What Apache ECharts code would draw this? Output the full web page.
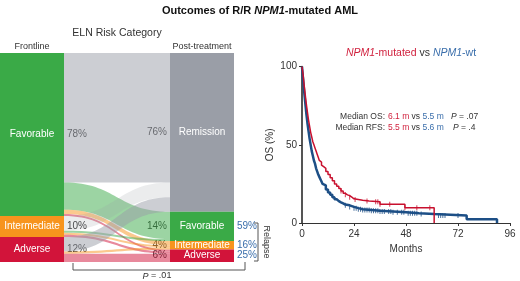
<!DOCTYPE html>
<html>
<head>
<meta charset="utf-8">
<script src="https://cdn.jsdelivr.net/npm/echarts@6/dist/echarts.min.js"></script>
<style>
  html, body { margin: 0; padding: 0; background: #fff; }
  #main { width: 520px; height: 281px; }
</style>
</head>
<body>
<div id="main"></div>
<script>
// ELN risk category: frontline -> post-treatment (percent of patients)
var frontNodes = ['Favorable', 'Intermediate', 'Adverse'];
var frontPct = [78, 10, 12];
var postNodes = ['Remission', 'Favorable', 'Intermediate', 'Adverse'];
var postPct = [76, 14, 4, 6];
var relapsePct = [59, 16, 25];
var flowFrom = ['Favorable', 'Favorable', 'Favorable', 'Favorable', 'Intermediate', 'Intermediate', 'Intermediate', 'Intermediate', 'Adverse', 'Adverse', 'Adverse'];
var flowTo = ['Remission', 'Favorable', 'Intermediate', 'Adverse', 'Remission', 'Favorable', 'Intermediate', 'Adverse', 'Remission', 'Intermediate', 'Adverse'];
var flowValue = [62, 13, 2, 1, 7, 1, 1, 1, 7, 1, 4];

// OS curves (months, % alive)
var monthsMut = [0, 0.5, 1, 1.5, 2, 2.5, 3, 3.5, 4, 4.5, 5, 5.5, 6, 6.5, 7, 7.5, 8, 8.5, 9, 9.5, 10, 11, 12, 13, 14, 15, 16, 17, 18, 19, 20, 21, 22, 23, 24, 26, 28, 31, 36, 47.5, 61];
var osMut = [100, 95, 88, 82, 76, 71, 66, 62, 58, 55, 52, 50, 48, 46, 44, 42, 40, 39, 37, 36, 35, 33, 31, 29, 27, 25, 23.5, 22, 20.5, 19, 18, 17.5, 16.5, 15.5, 15, 14.5, 14, 13.6, 12, 9.8, 0];
var monthsWt = [0, 0.5, 1, 1.5, 2, 2.5, 3, 3.5, 4, 4.5, 5, 5.5, 6, 6.5, 7, 7.5, 8, 8.5, 9, 9.5, 10, 11, 12, 13, 14, 15, 16, 17, 18, 19, 20, 22, 24, 26, 28, 32, 36, 42, 48, 54, 61, 76, 90];
var osWt = [100, 92, 84, 77, 70, 64, 59, 54, 50, 46, 43, 40, 38, 35, 33, 31, 29.5, 28, 26.5, 25, 24, 21.5, 19.5, 18, 16.5, 15.2, 14, 13.2, 12.5, 11.8, 11.3, 10.3, 9.5, 8.8, 8.3, 7.8, 7.3, 6.8, 6.3, 5.8, 4.8, 2.4, 0];
var censorMut = [18, 20, 22, 24.5, 30, 34, 35, 36, 40.5, 47.5, 53, 59];
var censorWt = [20, 22, 24, 25, 26, 27, 28, 29, 30, 31, 32, 33, 34, 35, 36, 37, 38, 40, 41, 42, 44, 46, 47, 49, 50, 51, 52, 53, 55, 63, 64, 65, 66, 72];

var FONT = '"Liberation Sans", Arial, sans-serif';
var NARROW = '"Liberation Sans Narrow", "Liberation Sans", Arial, sans-serif';
var nodeColor = { Remission: '#9a9ea7', Favorable: '#3aaa47', Intermediate: '#f7941d', Adverse: '#d2143a' };
var RED = '#d01f3c', BLUE = '#3a6eab';

var sTop = 53, sH = 209;

var nodes = [];
frontNodes.forEach(function (n) {
  nodes.push({ name: 'L-' + n, itemStyle: { color: nodeColor[n], borderWidth: 0 } });
});
postNodes.forEach(function (n) {
  nodes.push({ name: 'R-' + n, itemStyle: { color: nodeColor[n], borderWidth: 0 } });
});
var links = flowValue.map(function (v, i) {
  var op = 0.5;
  if (flowFrom[i] === 'Intermediate' && flowTo[i] === 'Remission') op = 0.2;
  return {
    source: 'L-' + flowFrom[i], target: 'R-' + flowTo[i], value: v,
    lineStyle: { color: nodeColor[flowTo[i]], opacity: op }
  };
});

function stepAt(ms, vs, m) {
  var v = vs[0];
  for (var i = 0; i < ms.length; i++) { if (ms[i] <= m) v = vs[i]; }
  return v;
}

var graphics = [];
// percent labels next to the nodes
var cum = 0;
frontPct.forEach(function (p) {
  graphics.push({ type: 'text', x: 67, y: sTop + sH * (cum + p / 2) / 100,
    style: { text: p + '%', font: '10px ' + FONT, fill: '#333', textAlign: 'left', textVerticalAlign: 'middle' } });
  cum += p;
});
cum = 0;
postPct.forEach(function (p, i) {
  graphics.push({ type: 'text', x: 167, y: sTop + sH * (cum + p / 2) / 100,
    style: { text: p + '%', font: '10px ' + FONT, fill: '#333', textAlign: 'right', textVerticalAlign: 'middle' } });
  if (i > 0) {
    graphics.push({ type: 'text', x: 237, y: sTop + sH * (cum + p / 2) / 100,
      style: { text: relapsePct[i - 1] + '%', font: '10px ' + FONT, fill: BLUE, textAlign: 'left', textVerticalAlign: 'middle' } });
  }
  cum += p;
});

var SM = '8.5px ';
graphics.push(
  { type: 'text', x: 117, y: 33, style: { text: 'ELN Risk Category', font: '10.5px ' + FONT, fill: '#333', textAlign: 'center', textVerticalAlign: 'middle' } },
  { type: 'text', x: 32, y: 47, style: { text: 'Frontline', font: '9px ' + FONT, fill: '#333', textAlign: 'center', textVerticalAlign: 'middle' } },
  { type: 'text', x: 202, y: 47, style: { text: 'Post-treatment', font: '9px ' + FONT, fill: '#333', textAlign: 'center', textVerticalAlign: 'middle' } },
  { type: 'polyline', shape: { points: [[254, 223], [258, 223], [258, 261], [254, 261]] }, style: { stroke: '#555', lineWidth: 1, fill: null } },
  { type: 'text', x: 266, y: 242, rotation: -Math.PI / 2,
    style: { text: 'Relapse', font: '9px ' + FONT, fill: '#333', textAlign: 'center', textVerticalAlign: 'middle' } },
  { type: 'polyline', shape: { points: [[73, 263], [73, 270], [245, 270], [245, 262]] }, style: { stroke: '#555', lineWidth: 1, fill: null } },
  { type: 'text', x: 157, y: 276,
    style: { text: '{i|P} = .01', font: '9px ' + FONT, fill: '#333', textAlign: 'center', textVerticalAlign: 'middle',
      rich: { i: { fontStyle: 'italic', fontSize: 9, fontFamily: FONT } } } },
  { type: 'text', x: 411, y: 53,
    style: { text: '{ri|NPM1}{r|-mutated} vs {bi|NPM1}{b|-wt}', font: '10.5px ' + FONT, fill: '#333', textAlign: 'center', textVerticalAlign: 'middle',
      rich: {
        ri: { fontStyle: 'italic', fill: RED, fontSize: 10.5, fontFamily: FONT },
        r: { fill: RED, fontSize: 10.5, fontFamily: FONT },
        bi: { fontStyle: 'italic', fill: BLUE, fontSize: 10.5, fontFamily: FONT },
        b: { fill: BLUE, fontSize: 10.5, fontFamily: FONT }
      } } },
  { type: 'text', x: 385, y: 117, style: { text: 'Median OS:', font: SM + FONT, fill: '#333', textAlign: 'right', textVerticalAlign: 'middle' } },
  { type: 'text', x: 385, y: 128, style: { text: 'Median RFS:', font: SM + FONT, fill: '#333', textAlign: 'right', textVerticalAlign: 'middle' } },
  { type: 'text', x: 388, y: 117,
    style: { text: '{r|6.1 m} vs {b|5.5 m}', font: SM + FONT, fill: '#333', textAlign: 'left', textVerticalAlign: 'middle',
      rich: { r: { fill: RED, fontSize: 8.5, fontFamily: FONT }, b: { fill: BLUE, fontSize: 8.5, fontFamily: FONT } } } },
  { type: 'text', x: 388, y: 128,
    style: { text: '{r|5.5 m} vs {b|5.6 m}', font: SM + FONT, fill: '#333', textAlign: 'left', textVerticalAlign: 'middle',
      rich: { r: { fill: RED, fontSize: 8.5, fontFamily: FONT }, b: { fill: BLUE, fontSize: 8.5, fontFamily: FONT } } } },
  { type: 'text', x: 451, y: 117,
    style: { text: '{i|P} = .07', font: SM + FONT, fill: '#333', textAlign: 'left', textVerticalAlign: 'middle',
      rich: { i: { fontStyle: 'italic', fontSize: 8.5, fontFamily: FONT } } } },
  { type: 'text', x: 453, y: 128,
    style: { text: '{i|P} = .4', font: SM + FONT, fill: '#333', textAlign: 'left', textVerticalAlign: 'middle',
      rich: { i: { fontStyle: 'italic', fontSize: 8.5, fontFamily: FONT } } } }
);

var chart = echarts.init(document.getElementById('main'), null, { renderer: 'canvas' });
chart.setOption({
  animation: false,
  backgroundColor: '#fff',
  title: {
    text: '{b|Outcomes of R/R }{bi|NPM1}{b|-mutated AML}',
    left: 'center', top: 0,
    textStyle: {
      rich: {
        b: { fontWeight: 'bold', fontSize: 11, color: '#111', fontFamily: FONT },
        bi: { fontWeight: 'bold', fontStyle: 'italic', fontSize: 11, color: '#111', fontFamily: FONT }
      }
    }
  },
  grid: { left: 302, top: 66.7, right: 10, bottom: 58 },
  xAxis: {
    type: 'value', min: 0, max: 96, interval: 24,
    name: 'Months', nameLocation: 'middle', nameGap: 20,
    nameTextStyle: { fontSize: 10, color: '#333', fontFamily: NARROW },
    axisLine: { lineStyle: { color: '#333', width: 1 } },
    axisTick: { length: 3, lineStyle: { color: '#333' } },
    axisLabel: { fontSize: 10, color: '#333', margin: 6, fontFamily: FONT },
    splitLine: { show: false }
  },
  yAxis: {
    type: 'value', min: 0, max: 100, interval: 50,
    name: 'OS (%)', nameLocation: 'middle', nameGap: 27, nameRotate: 90,
    nameTextStyle: { fontSize: 10, color: '#333', fontFamily: NARROW },
    axisLine: { show: true, lineStyle: { color: '#555', width: 2 } },
    axisTick: { show: true, length: 3, lineStyle: { color: '#333' } },
    axisLabel: { fontSize: 10, color: '#333', margin: 5, fontFamily: FONT },
    splitLine: { show: false }
  },
  graphic: graphics,
  series: [
    {
      type: 'sankey', silent: true,
      left: 0, top: sTop, width: 234, height: sH,
      nodeWidth: 64, nodeGap: 0, layoutIterations: 0, nodeAlign: 'justify', draggable: false,
      emphasis: { disabled: true },
      label: {
        position: 'inside', color: '#fff', fontSize: 10, fontFamily: FONT,
        formatter: function (p) { return p.name.slice(2); }
      },
      lineStyle: { curveness: 0.5 },
      data: nodes,
      links: links
    },
    {
      name: 'NPM1-wt', type: 'line', step: 'end', showSymbol: false, silent: true,
      lineStyle: { color: '#1d4f86', width: 2.5 }, z: 3,
      data: monthsWt.map(function (m, i) { return [m, osWt[i]]; })
    },
    {
      name: 'NPM1-mutated', type: 'line', step: 'end', showSymbol: false, silent: true,
      lineStyle: { color: '#c8102e', width: 1.5 }, z: 4,
      data: monthsMut.map(function (m, i) { return [m, osMut[i]]; })
    },
    {
      type: 'scatter', symbol: 'rect', symbolSize: [1, 5], silent: true, z: 3,
      itemStyle: { color: '#1d4f86' },
      data: censorWt.map(function (m) { return [m, stepAt(monthsWt, osWt, m)]; })
    },
    {
      type: 'scatter', symbol: 'rect', symbolSize: [1, 5], silent: true, z: 4,
      itemStyle: { color: '#c8102e' },
      data: censorMut.map(function (m) { return [m, stepAt(monthsMut, osMut, m)]; })
    }
  ]
});
</script>
</body>
</html>
